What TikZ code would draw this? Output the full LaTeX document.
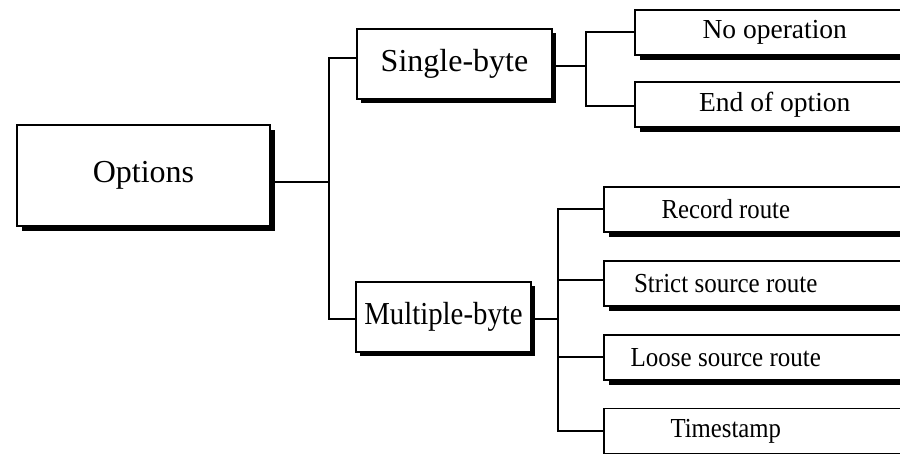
\documentclass[tikz,border=0pt]{standalone}
\usepackage{fontspec}
\setmainfont{Liberation Serif}
\usetikzlibrary{shadows}
\newcommand{\narrowtext}[2]{\scalebox{#1}[1]{#2}}
\tikzset{
  box/.style={draw, fill=white, line width=1.6pt, rectangle, inner sep=0pt},
  shadowA/.style={drop shadow={shadow xshift=5pt, shadow yshift=-5pt, fill=black, opacity=1}},
  shadowB/.style={drop shadow={shadow xshift=4pt, shadow yshift=-4pt, fill=black, opacity=1}},
  bigtext/.style={font=\fontsize{32}{36}\selectfont},
  leafA/.style={box, shadowA, anchor=west, minimum height=45pt, font=\fontsize{27.5}{30}\selectfont},
  leafB/.style={box, shadowA, anchor=west, minimum height=45pt, font=\fontsize{27.5}{30}\selectfont},
  conn/.style={line width=1.6pt}
}
\begin{document}
\begin{tikzpicture}[x=1pt,y=-1pt]
\useasboundingbox (0,0) rectangle (900,453);
\clip (0,0) rectangle (900,453);
% main nodes
\node[box, shadowA, bigtext, minimum width=253pt, minimum height=101pt] (opt) at (143.5,175.5) {Options};
\node[box, shadowB, bigtext, minimum width=195pt, minimum height=70pt] (sb) at (454.5,64) {Single-byte};
\node[box, shadowB, bigtext, minimum width=175pt, minimum height=70pt] (mb) at (443.5,317) {\narrowtext{0.9}{Multiple-byte}};
% upper leaves
\node[leafA] (nop) at (634,32.5) {\makebox[290pt][l]{\makebox[280pt]{No operation}}};
\node[leafA] (eoo) at (634,104.5) {\makebox[290pt][l]{\makebox[280pt]{End of option}}};
% lower leaves
\node[leafB] (rr) at (603,209.5) {\makebox[310pt][l]{\makebox[244pt]{\narrowtext{0.9}{Record route}}}};
\node[leafB] (ssr) at (603,283.5) {\makebox[310pt][l]{\makebox[244pt]{\narrowtext{0.91}{Strict source route}}}};
\node[leafB] (lsr) at (603,357.5) {\makebox[310pt][l]{\makebox[244pt]{\narrowtext{0.91}{Loose source route}}}};
\node[leafB] (ts) at (603,431) {\makebox[310pt][l]{\makebox[244pt]{\narrowtext{0.9}{Timestamp}}}};
% junction coordinates
\coordinate (j0) at (329,182);
\coordinate (j1) at (329,58);
\coordinate (j2) at (329,319);
\coordinate (k0) at (586,66);
\coordinate (k1) at (586,32);
\coordinate (k2) at (586,106);
\coordinate (m0) at (558,319);
\coordinate (m1) at (558,209);
\coordinate (m2) at (558,280);
\coordinate (m3) at (558,357);
\coordinate (m4) at (558,431);
% connectors
\draw[conn] (opt.east |- j0) -- (j0);
\draw[conn] (sb.west |- j1) -- (j1) -- (j2) -- (mb.west |- j2);
\draw[conn] (sb.east |- k0) -- (k0);
\draw[conn] (nop.west |- k1) -- (k1) -- (k2) -- (eoo.west |- k2);
\draw[conn] (mb.east |- m0) -- (m0);
\draw[conn] (rr.west |- m1) -- (m1) -- (m4) -- (ts.west |- m4);
\draw[conn] (m2) -- (ssr.west |- m2);
\draw[conn] (m3) -- (lsr.west |- m3);
\end{tikzpicture}
\end{document}
